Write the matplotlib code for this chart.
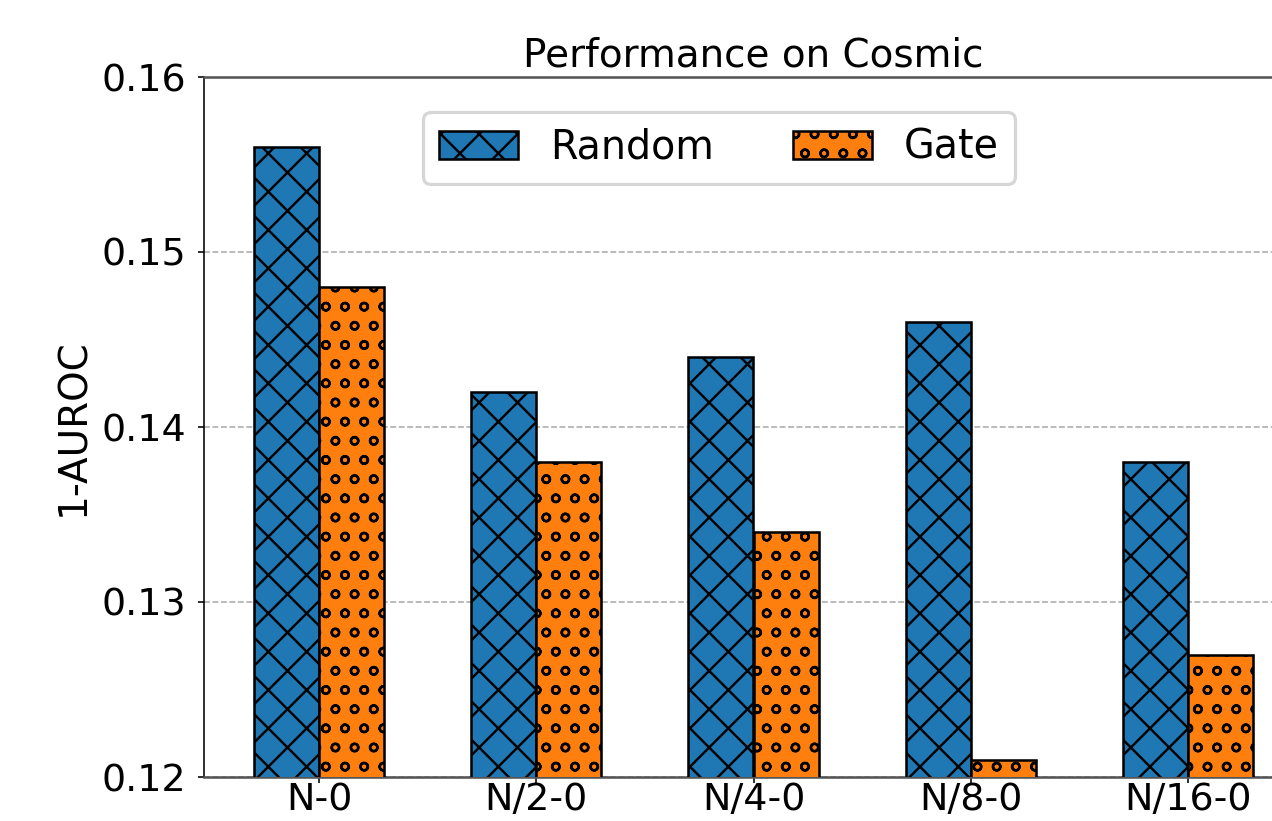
import matplotlib
matplotlib.use("Agg")
import matplotlib.pyplot as plt
import numpy as np

categories = ["N-0", "N/2-0", "N/4-0", "N/8-0", "N/16-0"]
random_vals = [0.156, 0.142, 0.144, 0.146, 0.138]
gate_vals = [0.148, 0.138, 0.134, 0.121, 0.127]
yticks = [0.12, 0.13, 0.14, 0.15, 0.16]

DPI = 230
plt.rcParams['font.family'] = ['DejaVu Sans']
plt.rcParams['hatch.linewidth'] = 0.75

fig = plt.figure(figsize=(1272 / DPI, 821 / DPI), dpi=DPI)
W, H = 1272, 821
left, right, top, bottom = 204, 1303, 77, 777
ax = fig.add_axes([left / W, 1 - bottom / H, (right - left) / W, (bottom - top) / H])

x = np.arange(len(categories))
w = 0.3
ax.bar(x - w / 2, random_vals, w, color='#1f77b4', edgecolor='black', hatch='xx',
       linewidth=0.8, label='Random', zorder=3)
ax.bar(x + w / 2, gate_vals, w, color='#ff7f0e', edgecolor='black', hatch='oo',
       linewidth=0.8, label='Gate', zorder=3)

ax.set_ylim(0.12, 0.16)
ax.set_yticks(yticks)
ax.set_xticks(x)
ax.set_xticklabels(categories)
ax.set_xlim(-0.53, 4.53)
ax.set_ylabel('1-AUROC', fontsize=12.2)
ax.yaxis.set_label_coords(-0.102, 0.5)
ax.set_title('Performance on Cosmic', fontsize=12.2, pad=3.2)

ax.yaxis.grid(True, linestyle='--', color='#aaaaaa', linewidth=0.5, zorder=0)
ax.set_axisbelow(True)

for s in ['top', 'bottom']:
    ax.spines[s].set_color('#555555')
    ax.spines[s].set_linewidth(0.8)
ax.spines['left'].set_linewidth(0.5)
ax.spines['right'].set_visible(False)
ax.tick_params(axis='both', length=2, width=0.5, labelsize=11.9)
ax.tick_params(axis='x', pad=-0.3)

ax.legend(ncol=2, loc='upper center', bbox_to_anchor=(0.4686, 0.95), borderaxespad=0,
          fontsize=12.4)

fig.savefig('out.png', dpi=DPI)
